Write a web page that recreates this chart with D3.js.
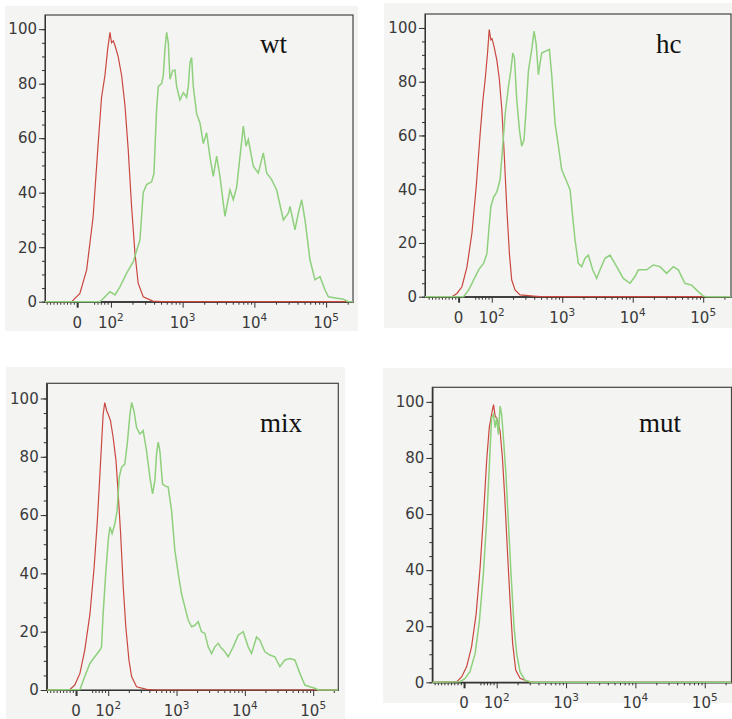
<!DOCTYPE html>
<html>
<head>
<meta charset="utf-8">
<script src="https://cdn.jsdelivr.net/npm/d3@7"></script>
<style>
  body { margin: 0; background: #fff; }
  svg text { font-family: "DejaVu Sans", sans-serif; }
  svg text.panel-label { font-family: "Liberation Serif", "Times New Roman", serif; }
</style>
</head>
<body>
<div id="chart-area"></div>
<script>
// tick values
const yTicks = [0, 20, 40, 60, 80, 100];
const yMinorTicks = d3.range(0, 105, 5);
const xTicks = [0, 1e2, 1e3, 1e4, 1e5];
const xTickBase = ["0", "10", "10", "10", "10"];
const xTickExp = ["", "2", "3", "4", "5"];
const xMinorTicks = [].concat(
  d3.range(-90, 0, 10),
  d3.range(50, 100, 10),
  d3.range(200, 1000, 100),
  d3.range(2000, 10000, 1000),
  d3.range(20000, 100000, 10000),
  [200000]
);

// histograms: [intensity, % of max]
const wtRed = [[-95,0],[-16,0],[8,3],[28,11.7],[47,31],[62,58],[72,75],[82,83],[90,92.6],[97,98.8],[102,95],[108,95.7],[114,94],[126,90],[141,83],[157,72],[174,56],[194,35],[216,18],[240,6.7],[282,1.8],[385,0.2],[500,0],[237000,0]];
const wtGreen = [[-95,0],[67,0],[77,1.2],[97,3.7],[114,2.5],[134,5.5],[165,10.4],[205,14.7],[254,22.7],[282,40],[314,43],[369,44],[398,47],[411,56],[433,70.5],[457,79],[509,80],[537,83],[566,92.6],[598,98.8],[631,95],[665,81.6],[725,84.7],[781,85],[824,79],[917,74],[1021,76.7],[1136,75],[1198,79],[1265,87.7],[1334,89.6],[1407,79],[1566,69],[1743,65.6],[1940,58],[2160,62],[2404,53],[2675,46],[2977,53.4],[3313,46],[3890,31.3],[4568,41],[5085,37.4],[5657,42],[7010,64.4],[7638,57],[8230,59.5],[9664,49.7],[11340,47.2],[13320,54.6],[14830,47.2],[17410,44.8],[20440,41],[25330,30],[29720,32.5],[31370,35],[36820,26.4],[41000,32.5],[45600,37.4],[50790,30],[59600,15.3],[70000,8],[82200,9.2],[96500,4.3],[107400,1.8],[173800,0.9],[204000,0],[237000,0]];

const hcRed = [[-101,0],[-20,0],[-5,1.2],[10,3.7],[25,11],[40,23.6],[53,41],[65,61],[73,73],[80,81],[87,90.7],[92,99.4],[97,95.6],[101,96],[108,93],[118,88],[128,81],[139,69.6],[150,53.4],[163,33.5],[178,16],[192,6.2],[214,2.5],[252,0.7],[390,0.2],[484,0],[248000,0]];
const hcGreen = [[-101,0],[15,0],[30,2.5],[45,6.2],[60,10],[75,12.4],[85,16],[90,23.6],[97,33.5],[106,37],[118,39],[131,43.5],[143,56],[155,68],[172,78],[186,84],[199,90.7],[210,88.8],[226,73.3],[247,62],[266,56],[287,58.4],[307,69.6],[331,84],[369,92],[398,98.8],[425,94.4],[459,82.6],[485,87],[512,90.7],[570,91.3],[657,92],[709,82.6],[791,64.6],[882,56],[983,47.2],[1157,42.9],[1290,39.8],[1407,29.8],[1519,21.1],[1693,12.4],[1888,11.2],[2105,14.3],[2348,15.5],[2704,10],[3082,6.8],[3436,10],[4044,14.3],[4762,15.5],[5919,11.2],[7357,6.8],[9147,5],[10770,7.5],[12000,10],[15760,10],[19590,11.8],[24360,11.2],[30280,8.7],[37640,11.2],[44320,10],[55080,5],[68470,4.3],[85110,1.9],[100200,0.2],[111700,0],[248000,0]];

const mixRed = [[-91,0],[-19,0.2],[-4,1.7],[12,5.7],[27,13.7],[43,26],[56,42],[66,58],[74,74],[79,84.4],[84,94.6],[89,98.6],[95,95.8],[100,94.6],[108,92.4],[118,86.7],[130,78.7],[140,67.3],[152,53.6],[166,35.3],[181,21.7],[201,10.3],[220,4.6],[260,1.1],[364,0.2],[510,0],[233000,0]];
const mixGreen = [[-91,0],[12,0.2],[27,4.6],[43,9.1],[58,11.4],[74,13.7],[79,14.8],[84,26.2],[92,40],[100,51.3],[106,55.9],[114,53.6],[125,57],[135,61.6],[145,73],[157,76.4],[175,77.5],[190,84.4],[208,94.6],[220,98.6],[238,95.8],[260,90],[291,87.8],[325,89],[364,82],[407,73],[446,67.3],[482,71.8],[510,81],[539,85],[570,82],[624,70.6],[675,70],[755,69.6],[845,61.6],[945,47.9],[1058,40],[1183,33],[1324,28.5],[1481,24],[1658,21.7],[1855,22.2],[2075,23.4],[2322,20],[2597,19.4],[2906,14.8],[3252,12.5],[3639,14.8],[4071,16],[4555,14.3],[5096,13.1],[5703,11.4],[6750,14.8],[7988,18.8],[9454,20],[11190,14.8],[12520,12.5],[14820,18.2],[16580,17.1],[19620,13.1],[23220,12],[27480,11.4],[32520,8],[38490,10.3],[45550,10.8],[53910,10.3],[63800,5.7],[75510,1.7],[89370,1.1],[105800,0.6],[118400,0],[233000,0]];

const mutRed = [[-97,0],[-22,0.2],[-7,2],[8,5.6],[23,12.7],[37,24.5],[49,41],[59,58.8],[69,79],[77,90.8],[84,95.5],[90,99],[95,95],[102,93.8],[112,89.6],[121,80],[130,67],[142,48],[156,29],[170,13.8],[188,4.4],[217,1.4],[286,0.2],[377,0],[243000,0]];
const mutGreen = [[-97,0],[-12,0.2],[3,1.4],[18,3.8],[34,10.3],[47,22],[59,38.7],[69,57.6],[77,76.6],[84,94.3],[90,95.5],[95,90.8],[100,94.3],[106,88.4],[112,98.5],[118,95.5],[125,87.2],[136,74.2],[147,57.6],[161,38.7],[178,19.8],[194,10.3],[217,3.8],[256,0.8],[319,0],[243000,0]];

const panelNames = ["wt", "hc", "mix", "mut"];
const panelX = [[-95, 237000], [-101, 248000], [-91, 233000], [-97, 243000]];
const series = [[wtRed, wtGreen], [hcRed, hcGreen], [mixRed, mixGreen], [mutRed, mutGreen]];

// layout per panel
const layout = [
  { bg: [5, 6, 353, 325],   box: [45, 15, 353, 301.7],     label: [260, 53] },
  { bg: [384, 3, 348, 325], box: [425, 14, 731, 296.7],    label: [656, 53] },
  { bg: [6, 367, 339, 352], box: [46.7, 383.3, 338.3, 690], label: [260, 432] },
  { bg: [383, 368, 349, 335], box: [432.3, 387.3, 731.5, 682.3], label: [639, 432] }
];

const redColor = "#c9473d";
const greenColor = "#8fd07c";
const yMax = 105.2;

// linear below T, log above (logicle-like display)
const T = 92;
const biex = v => v >= T ? Math.log10(v) : Math.log10(T) + (v - T) / (T * Math.LN10);

let svg = d3.select("#chart-area")
  .append("svg")
  .attr("width", 732)
  .attr("height", 719)

const styleAxis = (g) => {
  g.attr("font-family", null).attr("font-size", null).attr("color", "#333");
  g.selectAll("text").attr("font-size", 15).attr("fill", "#3a3a3a");
}

panelNames.forEach((name, i) => {
  let lay = layout[i];
  let [x0, y0, x1, y1] = lay.box;

  svg.append("rect")
    .attr("x", lay.bg[0]).attr("y", lay.bg[1])
    .attr("width", lay.bg[2]).attr("height", lay.bg[3])
    .attr("fill", "#f4f4f3")

  let xl = d3.scaleLinear()
    .domain(panelX[i].map(biex))
    .range([x0, x1]);
  let x = v => xl(biex(v));

  let y = d3.scaleLinear()
    .domain([0, yMax])
    .range([y1, y0]);

  // frame
  svg.append("rect")
    .attr("x", x0).attr("y", y0)
    .attr("width", x1 - x0).attr("height", y1 - y0)
    .attr("fill", "none")
    .attr("stroke", "#444")
    .attr("stroke-width", 1.2)

  // y axis
  svg.append("g")
    .attr("transform", `translate(${x0},0)`)
    .call(d3.axisLeft(y).tickValues(yMinorTicks).tickSize(3).tickFormat("").tickSizeOuter(0))
    .call(styleAxis)
  svg.append("g")
    .attr("transform", `translate(${x0},0)`)
    .call(d3.axisLeft(y).tickValues(yTicks).tickSize(6).tickPadding(2).tickSizeOuter(0))
    .call(styleAxis)

  // x axis
  svg.append("g")
    .attr("transform", `translate(0,${y1})`)
    .call(d3.axisBottom(xl).tickValues(xMinorTicks.map(biex)).tickSize(3).tickFormat("").tickSizeOuter(0))
    .call(styleAxis)
  let gx = svg.append("g")
    .attr("transform", `translate(0,${y1})`)
    .call(d3.axisBottom(xl).tickValues(xTicks.map(biex)).tickSize(6).tickFormat("").tickSizeOuter(0))
    .call(styleAxis)
  gx.selectAll(".tick line").attr("stroke-width", (d, j) => j === 0 ? 2 : 1)

  let labels = svg.append("g")
    .selectAll("text")
    .data(xTicks)
    .enter()
    .append("text")
    .attr("x", d => x(d))
    .attr("y", y1 + 26)
    .attr("text-anchor", "middle")
    .attr("font-size", 15)
    .attr("fill", "#3a3a3a")
  labels.append("tspan").text((d, j) => xTickBase[j])
  labels.append("tspan")
    .attr("font-size", 10.5)
    .attr("dy", -7)
    .text((d, j) => xTickExp[j])

  // curves
  svg.append("clipPath")
    .attr("id", `clip-${name}`)
    .append("rect")
    .attr("x", x0).attr("y", y0)
    .attr("width", x1 - x0).attr("height", y1 - y0 + 1)

  let line = d3.line()
    .x(d => x(d[0]))
    .y(d => y(d[1]));

  let plot = svg.append("g").attr("clip-path", `url(#clip-${name})`)
  plot.append("path")
    .datum(series[i][0])
    .attr("d", line)
    .attr("fill", "none")
    .attr("stroke", redColor)
    .attr("stroke-width", 1.2)
  plot.append("path")
    .datum(series[i][1])
    .attr("d", line)
    .attr("fill", "none")
    .attr("stroke", greenColor)
    .attr("stroke-width", 1.5)

  svg.append("text")
    .attr("class", "panel-label")
    .attr("x", lay.label[0])
    .attr("y", lay.label[1])
    .attr("font-size", 27)
    .attr("fill", "#111")
    .text(name)
});
</script>
</body>
</html>
